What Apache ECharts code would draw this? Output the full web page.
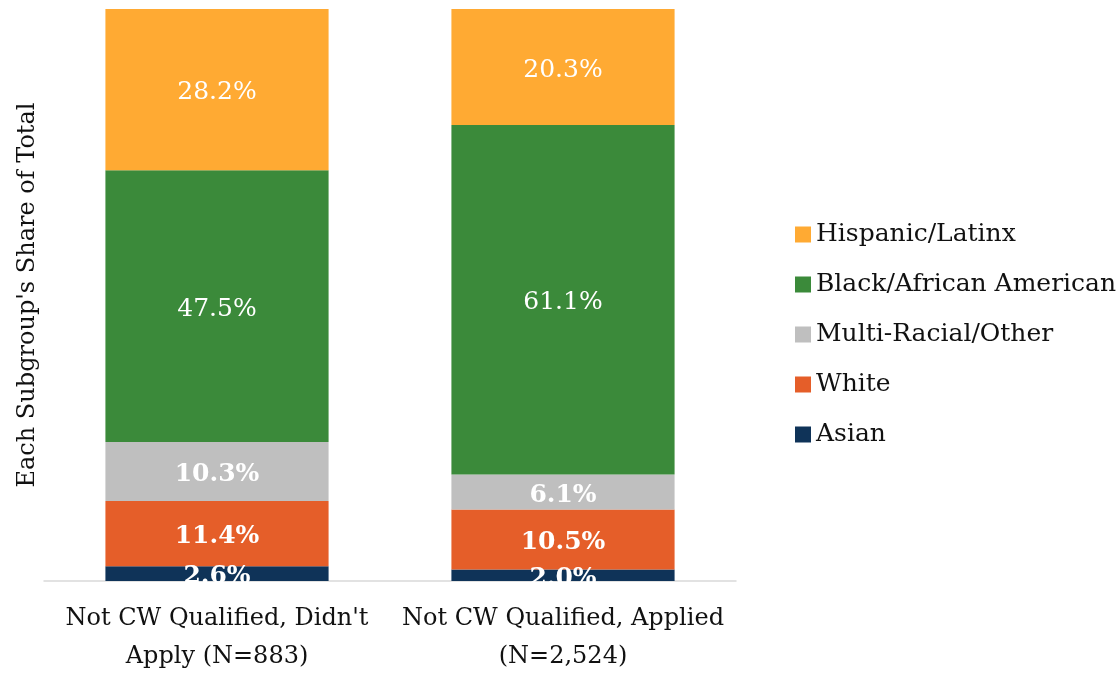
<!DOCTYPE html>
<html>
<head>
<meta charset="utf-8">
<script src="https://cdn.jsdelivr.net/npm/echarts@6/dist/echarts.min.js"></script>
<style>
  html, body { margin: 0; padding: 0; background: #fff; }
  #chart { width: 1118px; height: 673px; }
</style>
</head>
<body>
<div id="chart"></div>
<script>
const categories = ["Not CW Qualified, Didn't\nApply (N=883)", 'Not CW Qualified, Applied\n(N=2,524)'];
const asian = [2.6, 2.0];
const white = [11.4, 10.5];
const multiRacial = [10.3, 6.1];
const black = [47.5, 61.1];
const hispanic = [28.2, 20.3];

const FONT = 'DejaVu Serif';

// draws one stacked layer
const layer = (name, data, color, bold) => ({
    name: name,
    type: 'bar',
    stack: 'total',
    data: data,
    barWidth: '64.5%',
    itemStyle: { color: color },
    label: {
        show: true,
        position: 'inside',
        color: '#fff',
        fontFamily: FONT,
        fontSize: 25,
        fontWeight: bold ? 'bold' : 'normal',
        offset: [0, 3],
        formatter: p => p.value.toFixed(1) + '%'
    }
});

const chart = echarts.init(document.getElementById('chart'));
chart.setOption({
    animation: false,
    textStyle: { fontFamily: FONT },
    grid: { left: 44, right: 382, top: 9, bottom: 92, containLabel: false, outerBoundsMode: 'none' },
    legend: {
        orient: 'vertical',
        left: 790,
        top: 217,
        itemWidth: 16,
        itemHeight: 16,
        itemGap: 25,
        icon: 'rect',
        textStyle: { fontFamily: FONT, fontSize: 25, color: '#111' },
        data: ['Hispanic/Latinx', 'Black/African American', 'Multi-Racial/Other', 'White', 'Asian']
    },
    xAxis: {
        type: 'category',
        data: categories,
        axisTick: { show: false },
        axisLine: { lineStyle: { color: '#d9d9d9', width: 1.5 } },
        axisLabel: { color: '#111', fontSize: 24, lineHeight: 38, margin: 19, interval: 0 }
    },
    yAxis: {
        type: 'value',
        min: 0,
        max: 100,
        axisLabel: { show: false },
        axisLine: { show: false },
        axisTick: { show: false },
        splitLine: { show: false },
        name: "Each Subgroup's Share of Total",
        nameLocation: 'middle',
        nameGap: 4,
        nameTextStyle: { fontFamily: FONT, fontSize: 24, color: '#111' }
    },
    series: [
        layer('Asian', asian, '#0F3358', true),
        layer('White', white, '#E55E29', true),
        layer('Multi-Racial/Other', multiRacial, '#BFBFBF', true),
        layer('Black/African American', black, '#3B8A3A', false),
        layer('Hispanic/Latinx', hispanic, '#FFAA33', false)
    ],
    graphic: [{
        // mask below the axis so the smallest labels get cut like the original
        type: 'rect',
        z: 100,
        shape: { x: 44, y: 582, width: 692, height: 16 },
        style: { fill: '#fff' }
    }]
});
</script>
</body>
</html>
